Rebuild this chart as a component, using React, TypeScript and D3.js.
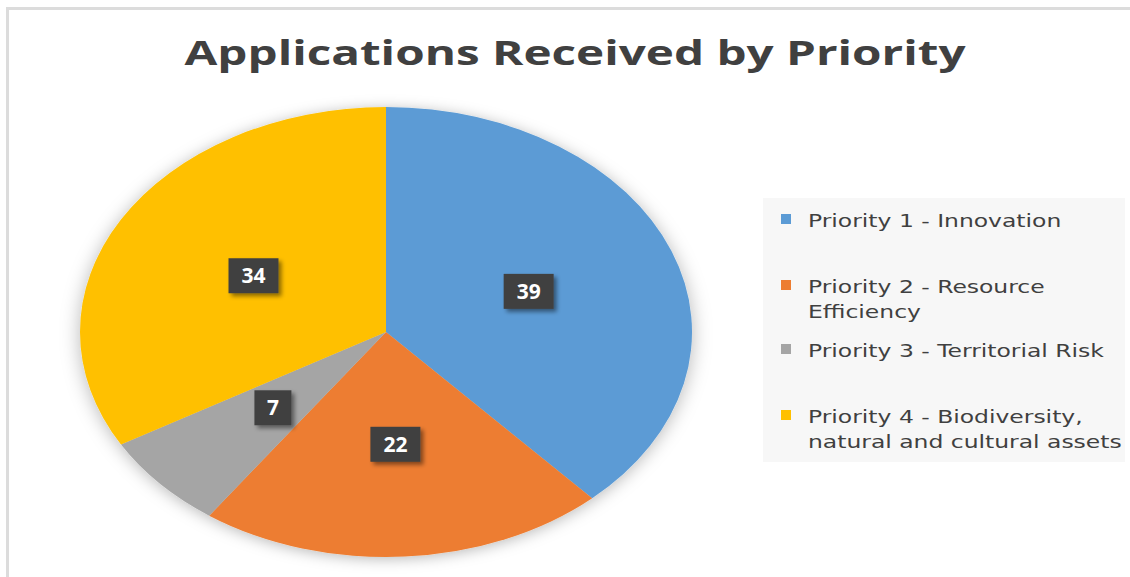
import React from "react";
import * as d3 from "d3";

const categories: string[] = [
  "Priority 1 - Innovation",
  "Priority 2 - Resource Efficiency",
  "Priority 3 - Territorial Risk",
  "Priority 4 - Biodiversity, natural and cultural assets",
];
const values: number[] = [39, 22, 7, 34];
const colors: string[] = ["#5B9BD5", "#ED7D31", "#A5A5A5", "#FFC000"];
const legendLines: string[][] = [
  ["Priority 1 - Innovation"],
  ["Priority 2 - Resource", "Efficiency"],
  ["Priority 3 - Territorial Risk"],
  ["Priority 4 - Biodiversity,", "natural and cultural assets"],
];
const title = "Applications Received by Priority";

const W = 1130;
const H = 577;
const cx = 386;
const cy = 332;
const ry = 225;
const rx = 306;
const sx = rx / ry;
const legendStretch = 1.38;

export default function App() {
  const pie = d3.pie<number>().value((d) => d).sort(null);
  const arcs = pie(values);
  const arc = d3.arc<d3.PieArcDatum<number>>().innerRadius(0).outerRadius(ry);

  const legendTop = [227, 293, 357, 423];

  return (
    <svg
      width={W}
      height={H}
      style={{ position: "absolute", left: 0, top: 0, background: "#fff" }}
    >
      <defs>
        <filter id="pieShadow" x="-20%" y="-20%" width="140%" height="140%">
          <feDropShadow dx="0" dy="2" stdDeviation="7" floodColor="#000" floodOpacity="0.28" />
        </filter>
        <filter id="boxShadow" x="-30%" y="-30%" width="160%" height="160%">
          <feDropShadow dx="3" dy="3" stdDeviation="2" floodColor="#000" floodOpacity="0.45" />
        </filter>
      </defs>
      <rect x={7.5} y={8.5} width={1300} height={700} fill="#fff" stroke="#dcdcdc" strokeWidth={3} />
      <text
        x={575}
        y={65}
        textAnchor="middle"
        fontFamily="'Open Sans', sans-serif"
        fontWeight="bold"
        fontSize={34}
        fill="#404040"
        textLength={781}
        lengthAdjust="spacingAndGlyphs"
      >
        {title}
      </text>

      <g transform={`translate(${cx},${cy}) scale(${sx},1)`} filter="url(#pieShadow)">
        {arcs.map((a, i) => (
          <path key={categories[i]} d={arc(a) || ""} fill={colors[i]} />
        ))}
      </g>

      {arcs.map((a, i) => {
        const [px, py] = arc.centroid(a);
        const x = cx + px * sx;
        const y = cy + py;
        const label = String(values[i]);
        const bw = 24 + 13 * label.length;
        const bh = 35;
        return (
          <g key={"lbl" + i}>
            <rect
              x={x - bw / 2}
              y={y - bh / 2}
              width={bw}
              height={bh}
              fill="#404040"
              filter="url(#boxShadow)"
            />
            <text
              x={x}
              y={y + 7.5}
              textAnchor="middle"
              fontFamily="'Open Sans', sans-serif"
              fontWeight="bold"
              fontSize={21}
              fill="#fff"
            >
              {label}
            </text>
          </g>
        );
      })}

      <rect x={763} y={198} width={362} height={264} fill="#f7f7f7" />
      {legendLines.map((lines, i) => (
        <g key={"leg" + i}>
          <rect x={781} y={legendTop[i] - 13} width={10} height={10} fill={colors[i]} />
          {lines.map((ln, j) => (
            <text
              key={ln}
              transform={`translate(808,${legendTop[i] + j * 25}) scale(${legendStretch},1)`}
              fontFamily="'DejaVu Sans', sans-serif"
              fontSize={17}
              fill="#404040"
            >
              {ln}
            </text>
          ))}
        </g>
      ))}
    </svg>
  );
}
